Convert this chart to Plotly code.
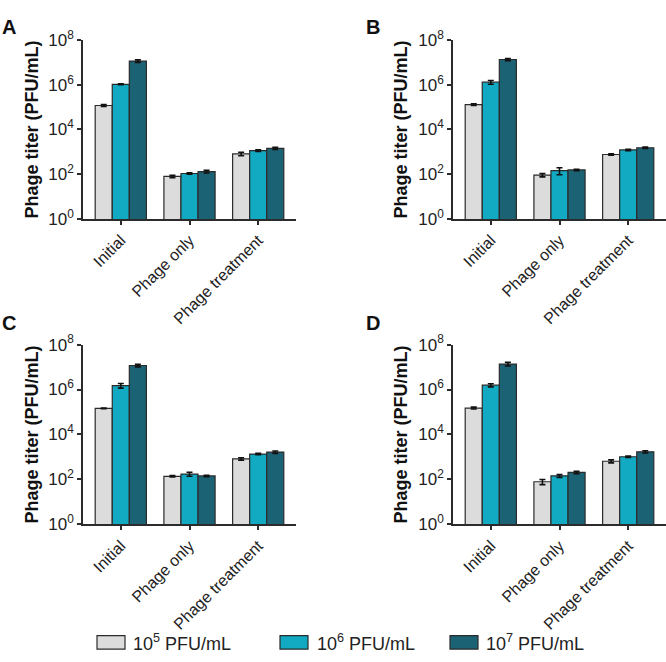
import plotly.graph_objects as go

categories = ["Initial", "Phage only", "Phage treatment"]
series_names = ["10<sup>5</sup> PFU/mL", "10<sup>6</sup> PFU/mL", "10<sup>7</sup> PFU/mL"]
colors = ["#dcdcdc", "#12a9c3", "#1b6275"]

# panel -> series -> values per category
A_vals = [[1.18e5, 80, 813], [1.05e6, 107, 1130], [1.15e7, 131, 1440]]
A_err = [[1.2e4, 10, 150], [5e4, 8, 100], [1.5e6, 18, 150]]
B_vals = [[1.3e5, 91, 760], [1.3e6, 145, 1210], [1.35e7, 155, 1520]]
B_err = [[1.2e4, 15, 60], [2.5e5, 50, 80], [1.5e6, 12, 100]]
C_vals = [[1.44e5, 138, 826], [1.5e6, 174, 1350], [1.17e7, 143, 1650]]
C_err = [[5e3, 10, 100], [3.5e5, 35, 100], [1.5e6, 10, 200]]
D_vals = [[1.5e5, 79, 644], [1.56e6, 144, 1020], [1.36e7, 207, 1690]]
D_err = [[1.5e4, 20, 100], [2.5e5, 20, 70], [2.5e6, 25, 200]]

tick_vals = [1, 1e2, 1e4, 1e6, 1e8]
tick_text = ["10<sup>0</sup>", "10<sup>2</sup>", "10<sup>4</sup>", "10<sup>6</sup>", "10<sup>8</sup>"]
panel_letters = ["A", "B", "C", "D"]

W, H = 666, 662
FONT = "Liberation Sans, Arial, sans-serif"
AX = "#2b2b2b"

panels = [(A_vals, A_err), (B_vals, B_err), (C_vals, C_err), (D_vals, D_err)]
xdomains = [[83 / W, 296 / W], [453 / W, 1.0], [83 / W, 296 / W], [453 / W, 1.0]]
ydomains = [[1 - 214 / H, 1 - 29 / H], [1 - 214 / H, 1 - 29 / H],
            [1 - 530 / H, 1 - 344 / H], [1 - 530 / H, 1 - 344 / H]]

fig = go.Figure()
layout = {}
annotations = []
for p, (vals, errs) in enumerate(panels):
    idx = "" if p == 0 else str(p + 1)
    for s in range(3):
        fig.add_trace(go.Bar(
            x=categories, y=vals[s], name=series_names[s],
            marker=dict(color=colors[s], line=dict(color=AX, width=1.2)),
            error_y=dict(type="data", array=errs[s], color="#111111", thickness=1.6, width=3),
            xaxis="x" + idx, yaxis="y" + idx, showlegend=False,
        ))
    layout["xaxis" + idx] = dict(
        domain=xdomains[p], anchor="y" + idx, range=[-0.55, 2.55],
        showline=True, linecolor=AX, linewidth=1.5, ticks="outside", ticklen=4,
        tickcolor=AX, tickwidth=1.5, tickangle=-45, showgrid=False, zeroline=False,
        tickfont=dict(family=FONT, size=16, color="#222"),
    )
    layout["yaxis" + idx] = dict(
        domain=ydomains[p], anchor="x" + idx, type="log", range=[0, 8],
        tickvals=tick_vals, ticktext=tick_text,
        showline=True, linecolor=AX, linewidth=1.5, ticks="outside", ticklen=4,
        tickcolor=AX, tickwidth=1.5, showgrid=False, zeroline=False,
        tickfont=dict(family=FONT, size=17, color="#222"),
    )
    # y title
    xc = (32 if p % 2 == 0 else 401) / W
    yc = (ydomains[p][0] + ydomains[p][1]) / 2
    annotations.append(dict(
        text="<b>Phage titer (PFU/mL)</b>", x=xc, y=yc, xref="paper", yref="paper",
        textangle=-90, showarrow=False, xanchor="center", yanchor="middle",
        font=dict(family=FONT, size=18, color="#111"),
    ))
    # panel letter
    lx = (0 if p % 2 == 0 else 364) / W
    ly = 1 - (2 if p < 2 else 308) / H
    annotations.append(dict(
        text="<b>%s</b>" % panel_letters[p], x=lx, y=ly, xref="paper", yref="paper",
        showarrow=False, xanchor="left", yanchor="top",
        font=dict(family=FONT, size=20, color="#111"),
    ))

# legend drawn manually
shapes = []
box_x = [97, 280, 450]
text_x = [131, 315, 484]
for s in range(3):
    shapes.append(dict(
        type="rect", xref="paper", yref="paper",
        x0=box_x[s] / W, x1=(box_x[s] + 28) / W, y0=1 - 659 / H, y1=1 - 645 / H,
        fillcolor=colors[s], line=dict(color=AX, width=1.2),
    ))
    annotations.append(dict(
        text=series_names[s], x=text_x[s] / W, y=1 - 652 / H, xref="paper", yref="paper",
        showarrow=False, xanchor="left", yanchor="middle",
        font=dict(family=FONT, size=18, color="#222"),
    ))

fig.update_layout(
    width=W, height=H, margin=dict(l=0, r=0, t=0, b=0),
    paper_bgcolor="white", plot_bgcolor="white",
    barmode="group", bargap=0.255, bargroupgap=0,
    annotations=annotations, shapes=shapes, showlegend=False,
    **layout,
)

fig.write_html(
    "out.html",
    config={"displayModeBar": False},
    post_script="document.body.style.margin='0';document.body.style.overflow='hidden';",
)
